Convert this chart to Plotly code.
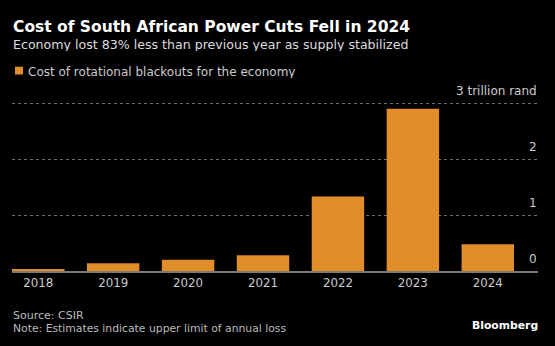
import plotly.graph_objects as go

# Cost of rotational blackouts, trillion rand
years = ["2018", "2019", "2020", "2021", "2022", "2023", "2024"]
cost = [0.02, 0.14, 0.2, 0.28, 1.33, 2.9, 0.48]
y_ticks = [0, 1, 2, 3]
y_tick_labels = ["0", "1", "2", "3 trillion rand"]

W, H = 555, 346
PLOT_TOP, PLOT_BOTTOM = 102, 271
PLOT_LEFT, PLOT_RIGHT = 12, 538
Y_MAX = 3.02  # a little headroom so the top gridline is drawn
FONT = "DejaVu Sans"
ORANGE = "#E08D2A"


def py(p):
    """Convert a pixel row in the page to paper y."""
    return (PLOT_BOTTOM - p) / (PLOT_BOTTOM - PLOT_TOP)


def px(p):
    """Convert a pixel column in the page to paper x."""
    return (p - PLOT_LEFT) / (PLOT_RIGHT - PLOT_LEFT)


fig = go.Figure(
    go.Bar(
        x=years,
        y=cost,
        marker=dict(color=ORANGE, line=dict(width=0)),
        showlegend=False,
        hoverinfo="x+y",
    )
)

# (text, left px, centre px, size, colour)
text_rows = [
    ("<b>Cost of South African Power Cuts Fell in 2024</b>", 11.5, 27.3, 15.5, "#ffffff"),
    ("Economy lost 83% less than previous year as supply stabilized", 11.5, 44.8, 12.6, "#dddddd"),
    ("Cost of rotational blackouts for the economy", 26.5, 71.0, 12.0, "#cccccc"),
    ("Source: CSIR", 11.5, 314.5, 11.0, "#bbbbbb"),
    ("Note: Estimates indicate upper limit of annual loss", 11.5, 328.3, 10.8, "#bbbbbb"),
]
annotations = []
for text, left, centre, size, color in text_rows:
    annotations.append(dict(
        text=text, xref="paper", yref="paper", x=px(left), y=py(centre),
        xanchor="left", yanchor="middle", showarrow=False, borderpad=0,
        height=round(size * 1.05),
        font=dict(family=FONT, size=size, color=color)))

annotations.append(dict(
    text="<b>Bloomberg</b>", xref="paper", yref="paper",
    x=px(538.5), y=py(325.5), xanchor="right", yanchor="middle",
    showarrow=False, borderpad=0,
    font=dict(family=FONT, size=10.8, color="#ffffff")))

# Value labels for the y axis sit just above each gridline, flush right
for v, lab in zip(y_ticks, y_tick_labels):
    annotations.append(dict(
        text=lab, xref="paper", yref="y", x=1.0, y=v,
        xanchor="right", yanchor="bottom", yshift=5, showarrow=False,
        borderpad=0, height=13,
        font=dict(family=FONT, size=12, color="#cccccc")))

shapes = [
    # legend swatch
    dict(type="rect", xref="paper", yref="paper",
         x0=px(15), x1=px(23), y0=py(74.5), y1=py(66.7),
         fillcolor=ORANGE, line=dict(width=0)),
]

fig.update_layout(
    width=W, height=H,
    margin=dict(l=PLOT_LEFT, r=W - PLOT_RIGHT, t=PLOT_TOP, b=H - PLOT_BOTTOM),
    paper_bgcolor="#000000", plot_bgcolor="#000000",
    bargap=0.3,
    font=dict(family=FONT, color="#cccccc"),
    annotations=annotations,
    shapes=shapes,
    xaxis=dict(
        type="category", range=[-0.35, 6.67],
        showgrid=False, zeroline=False,
        showline=True, linecolor="#7a7a7a", linewidth=1.5,
        ticks="",
        tickfont=dict(size=11.8, color="#cccccc"),
        fixedrange=True,
    ),
    yaxis=dict(
        range=[0, Y_MAX], tickvals=y_ticks, showticklabels=False,
        showgrid=True, gridcolor="#6e6e6e", griddash="dot", gridwidth=1,
        zeroline=False, fixedrange=True,
    ),
)

fig.write_html("out.html")
